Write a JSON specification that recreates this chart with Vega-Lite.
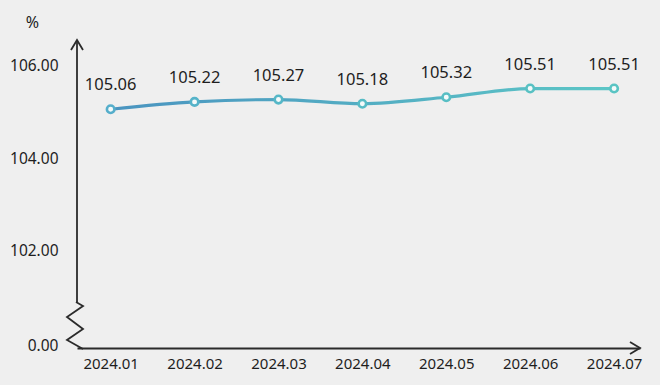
{
  "$schema": "https://vega.github.io/schema/vega-lite/v6.json",
  "autosize": {"type": "none"},
  "width": 563,
  "height": 308,
  "padding": {"left": 77, "top": 40, "right": 20, "bottom": 37},
  "background": "#efefef",
  "config": {"view": {"stroke": null}, "font": "Noto Sans"},
  "data": {"values": [
    {"month": "2024.01", "value": 105.06},
    {"month": "2024.02", "value": 105.22},
    {"month": "2024.03", "value": 105.27},
    {"month": "2024.04", "value": 105.18},
    {"month": "2024.05", "value": 105.32},
    {"month": "2024.06", "value": 105.51},
    {"month": "2024.07", "value": 105.51}
  ]},
  "layer": [
    {
      "encoding": {
        "x": {
          "field": "month", "type": "ordinal", "sort": null,
          "scale": {"type": "point", "padding": 0.355, "align": 0.565},
          "axis": {"domain": true, "domainColor": "#2b2b2b", "domainWidth": 1.8, "ticks": false, "labelAngle": 0, "labelPadding": 8, "labelFontSize": 15, "labelColor": "#1e1e1e", "title": null, "grid": false}
        },
        "y": {
          "field": "value", "type": "quantitative",
          "scale": {"domain": [99.87, 106.565], "nice": false, "zero": false},
          "axis": {
            "values": [99.935, 102, 104, 106],
            "labelExpr": "datum.value < 100 ? '0.00' : format(datum.value, '.2f')",
            "domain": false, "ticks": false, "grid": false, "labelFlush": false,
            "labelPadding": 19, "labelFontSize": 15.5, "labelColor": "#1e1e1e",
            "title": "%", "titleAngle": 0, "titleX": -45, "titleY": -18,
            "titleFontSize": 16, "titleFontWeight": "normal", "titleColor": "#1e1e1e",
            "titleAlign": "center", "titleBaseline": "middle"
          }
        }
      },
      "layer": [
        {"mark": {"type": "line", "interpolate": "monotone", "strokeWidth": 3.2, "stroke": {"gradient": "linear", "x1": 0, "y1": 0, "x2": 1, "y2": 0, "stops": [{"offset": 0, "color": "#4a94c0"}, {"offset": 1, "color": "#5cc6c6"}]}}},
        {"mark": {"type": "point", "filled": true, "fill": "#f4fafa", "size": 57, "strokeWidth": 2.6, "opacity": 1},
         "encoding": {"stroke": {"field": "month", "type": "ordinal", "sort": null, "legend": null,
           "scale": {"range": ["#55aecb", "#55b3c9", "#55b7c7", "#56bbc5", "#57bec4", "#58c1c3", "#59c4c3"]}}}},
        {"mark": {"type": "text", "dy": -24, "fontSize": 16.5, "color": "#1e1e1e"},
         "encoding": {"text": {"field": "value", "type": "quantitative", "format": ".2f"}}}
      ]
    },
    {
      "data": {"values": [{}]},
      "mark": {"type": "rule", "stroke": "#2b2b2b", "strokeWidth": 1.8},
      "encoding": {
        "x": {"datum": 0, "type": "quantitative", "scale": {"domain": [0, 1]}, "axis": null},
        "y": {"datum": 100.87, "type": "quantitative", "scale": {"domain": [99.87, 106.565], "nice": false, "zero": false}},
        "y2": {"datum": 106.565}
      }
    },
    {
      "data": {"values": [{}]},
      "mark": {"type": "point", "shape": "M-0.1,-2.35L0.6,-1.95L-1,-0.85L0.6,0.35L-1,1.45L0.6,2.35", "size": 400, "filled": false, "stroke": "#2b2b2b", "strokeWidth": 1.8, "opacity": 1},
      "encoding": {
        "x": {"datum": 0, "type": "quantitative", "scale": {"domain": [0, 1]}, "axis": null},
        "y": {"datum": 100.36, "type": "quantitative", "scale": {"domain": [99.87, 106.565], "nice": false, "zero": false}}
      }
    },
    {
      "data": {"values": [{}]},
      "mark": {"type": "point", "shape": "M-0.6,1L0,0L0.6,1", "size": 400, "filled": false, "stroke": "#2b2b2b", "strokeWidth": 1.8, "opacity": 1},
      "encoding": {
        "x": {"datum": 0, "type": "quantitative", "scale": {"domain": [0, 1]}, "axis": null},
        "y": {"datum": 106.565, "type": "quantitative", "scale": {"domain": [99.87, 106.565], "nice": false, "zero": false}}
      }
    },
    {
      "data": {"values": [{}]},
      "mark": {"type": "point", "shape": "M-1,-0.6L0,0L-1,0.6", "size": 400, "filled": false, "stroke": "#2b2b2b", "strokeWidth": 1.8, "opacity": 1},
      "encoding": {
        "x": {"datum": 1, "type": "quantitative", "scale": {"domain": [0, 1]}, "axis": null},
        "y": {"datum": 99.87, "type": "quantitative", "scale": {"domain": [99.87, 106.565], "nice": false, "zero": false}}
      }
    }
  ],
  "resolve": {"scale": {"x": "independent", "stroke": "independent"}}
}
